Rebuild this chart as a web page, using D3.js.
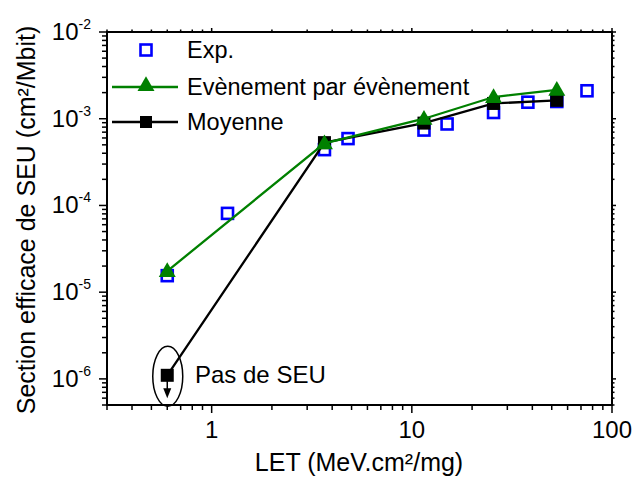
<!DOCTYPE html>
<html>
<head>
<meta charset="utf-8">
<script src="https://cdn.jsdelivr.net/npm/d3@7"></script>
<style>
  html, body { margin: 0; padding: 0; background: #fff; }
  text { font-family: "Liberation Sans", Arial, sans-serif; fill: #000; }
</style>
</head>
<body>
<div id="chart"></div>
<script>
/* data */
var letExp   = [0.6, 1.2, 3.66, 4.8, 11.5, 15, 25.6, 38, 53, 75];
var sigmaExp = [1.55e-5, 8.1e-5, 4.4e-4, 5.9e-4, 7.4e-4, 8.7e-4, 1.18e-3, 1.55e-3, 1.58e-3, 2.1e-3];

var letEvt   = [0.6, 3.66, 11.5, 25.6, 53];
var sigmaEvt = [1.75e-5, 5.2e-4, 1.0e-3, 1.78e-3, 2.15e-3];

var letMoy   = [0.6, 3.66, 11.5, 25.6, 53];
var sigmaMoy = [1.1e-6, 5.3e-4, 8.9e-4, 1.5e-3, 1.63e-3];

var xTicks = [1, 10, 100];
var yExps  = [-6, -5, -4, -3, -2];

var legendLabels = ['Exp.', 'Evènement par évènement', 'Moyenne'];

(function drawChart() {
  var W = 634, H = 477;
  var L = 107, R = 612, T = 32, B = 405;

  var svg = d3.select('#chart').append('svg')
    .attr('width', W).attr('height', H);

  var x = d3.scaleLog().domain([0.3, 100]).range([L, R]);
  var y = d3.scaleLog().domain([5e-7, 1e-2]).range([B, T]);

  /* minor tick values */
  var xMinor = [];
  [0.1, 1, 10].forEach(function (d) {
    for (var k = 2; k <= 9; k++) {
      var v = d * k;
      if (v >= 0.3 && v <= 100) xMinor.push(v);
    }
  });
  var yMinor = [];
  [1e-7, 1e-6, 1e-5, 1e-4, 1e-3].forEach(function (d) {
    for (var k = 2; k <= 9; k++) {
      var v = d * k;
      if (v >= 5e-7 && v < 1e-2) yMinor.push(v);
    }
  });
  var yMajor = yExps.map(function (e) { return Math.pow(10, e); });

  var ax = svg.append('g').attr('stroke', '#000').attr('stroke-width', 1.5);

  /* frame */
  ax.append('rect')
    .attr('x', L).attr('y', T).attr('width', R - L).attr('height', B - T)
    .attr('fill', 'none').attr('stroke-width', 2);

  /* bottom + top ticks */
  xTicks.forEach(function (v) {
    ax.append('line').attr('x1', x(v)).attr('x2', x(v)).attr('y1', B).attr('y2', B + 8);
    ax.append('line').attr('x1', x(v)).attr('x2', x(v)).attr('y1', T).attr('y2', T - 4);
  });
  xMinor.forEach(function (v) {
    ax.append('line').attr('x1', x(v)).attr('x2', x(v)).attr('y1', B).attr('y2', B + 5);
    ax.append('line').attr('x1', x(v)).attr('x2', x(v)).attr('y1', T).attr('y2', T - 2.5);
  });

  /* left + right ticks */
  yMajor.forEach(function (v) {
    ax.append('line').attr('y1', y(v)).attr('y2', y(v)).attr('x1', L).attr('x2', L - 8);
    ax.append('line').attr('y1', y(v)).attr('y2', y(v)).attr('x1', R).attr('x2', R + 4);
  });
  yMinor.forEach(function (v) {
    ax.append('line').attr('y1', y(v)).attr('y2', y(v)).attr('x1', L).attr('x2', L - 5);
    ax.append('line').attr('y1', y(v)).attr('y2', y(v)).attr('x1', R).attr('x2', R + 2.5);
  });

  /* tick labels */
  xTicks.forEach(function (v) {
    svg.append('text')
      .attr('x', x(v)).attr('y', B + 33)
      .attr('text-anchor', 'middle').attr('font-size', 24)
      .text(v);
  });
  yExps.forEach(function (e) {
    var t = svg.append('text')
      .attr('x', L - 16).attr('y', y(Math.pow(10, e)) + 8)
      .attr('text-anchor', 'end').attr('font-size', 24);
    t.append('tspan').text('10');
    t.append('tspan').attr('font-size', 14).attr('dy', -11).text(e);
  });

  /* axis titles */
  svg.append('text')
    .attr('x', 359).attr('y', 471)
    .attr('text-anchor', 'middle').attr('font-size', 25)
    .text('LET (MeV.cm²/mg)');
  svg.append('text')
    .attr('transform', 'translate(35,220) rotate(-90)')
    .attr('text-anchor', 'middle').attr('font-size', 25)
    .text('Section efficace de SEU (cm²/Mbit)');

  var line = d3.line()
    .x(function (d) { return x(d[0]); })
    .y(function (d) { return y(d[1]); });

  var expPts = d3.zip(letExp, sigmaExp);
  var evtPts = d3.zip(letEvt, sigmaEvt);
  var moyPts = d3.zip(letMoy, sigmaMoy);

  var blue = '#0000ff', green = '#008000';
  var tri = d3.symbol().type(d3.symbolTriangle).size(125);

  /* Exp. open squares */
  svg.append('g').selectAll('rect').data(expPts).enter().append('rect')
    .attr('x', function (d) { return x(d[0]) - 5.5; })
    .attr('y', function (d) { return y(d[1]) - 5.5; })
    .attr('width', 11).attr('height', 11)
    .attr('fill', 'none').attr('stroke', blue).attr('stroke-width', 2.6);

  /* Moyenne */
  svg.append('path').datum(moyPts).attr('d', line)
    .attr('fill', 'none').attr('stroke', '#000').attr('stroke-width', 2.3);
  svg.append('g').selectAll('rect').data(moyPts).enter().append('rect')
    .attr('x', function (d) { return x(d[0]) - 6.5; })
    .attr('y', function (d) { return y(d[1]) - 6.5; })
    .attr('width', 13).attr('height', 13).attr('fill', '#000');

  /* Evènement par évènement */
  svg.append('path').datum(evtPts).attr('d', line)
    .attr('fill', 'none').attr('stroke', green).attr('stroke-width', 2.3);
  svg.append('g').selectAll('path').data(evtPts).enter().append('path')
    .attr('d', tri)
    .attr('transform', function (d) { return 'translate(' + x(d[0]) + ',' + (y(d[1]) + 1) + ')'; })
    .attr('fill', green);

  /* "Pas de SEU" annotation */
  var px = x(letMoy[0]), py = y(sigmaMoy[0]);
  svg.append('ellipse')
    .attr('cx', px + 0.5).attr('cy', py + 1).attr('rx', 15).attr('ry', 30)
    .attr('fill', 'none').attr('stroke', '#000').attr('stroke-width', 1.5);
  svg.append('line')
    .attr('x1', px).attr('x2', px).attr('y1', py).attr('y2', py + 15)
    .attr('stroke', '#000').attr('stroke-width', 1.5);
  svg.append('path')
    .attr('d', 'M' + (px - 4) + ',' + (py + 13) + 'L' + (px + 4) + ',' + (py + 13) + 'L' + px + ',' + (py + 23) + 'Z')
    .attr('fill', '#000');
  svg.append('text')
    .attr('x', 195).attr('y', py + 8)
    .attr('font-size', 24)
    .text('Pas de SEU');

  /* legend */
  var lg = svg.append('g');
  var lx = 146, lys = [50, 87, 122], tx = 187;
  lg.append('rect').attr('x', lx - 5.5).attr('y', lys[0] - 5.5)
    .attr('width', 11).attr('height', 11)
    .attr('fill', 'none').attr('stroke', blue).attr('stroke-width', 2.6);
  lg.append('line').attr('x1', 112).attr('x2', 178).attr('y1', lys[1]).attr('y2', lys[1])
    .attr('stroke', green).attr('stroke-width', 2.3);
  lg.append('path').attr('d', tri).attr('transform', 'translate(' + lx + ',' + (lys[1] - 1) + ')')
    .attr('fill', green);
  lg.append('line').attr('x1', 112).attr('x2', 178).attr('y1', lys[2]).attr('y2', lys[2])
    .attr('stroke', '#000').attr('stroke-width', 2.3);
  lg.append('rect').attr('x', lx - 6).attr('y', lys[2] - 6)
    .attr('width', 12).attr('height', 12).attr('fill', '#000');
  legendLabels.forEach(function (s, i) {
    lg.append('text').attr('x', tx).attr('y', lys[i] + 8)
      .attr('font-size', 23.5).text(s);
  });
}());
</script>
</body>
</html>
